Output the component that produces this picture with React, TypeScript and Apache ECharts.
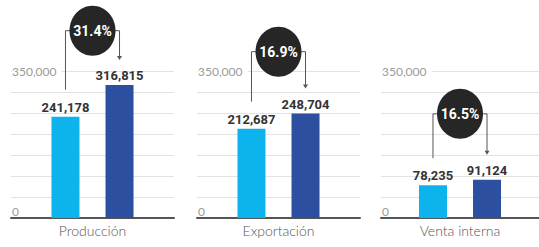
import React, { useEffect, useRef } from 'react';
import * as echarts from 'echarts';

const categories = ['Producción', 'Exportación', 'Venta interna'];
const previousValues = [241178, 212687, 78235];
const currentValues = [316815, 248704, 91124];
const growthLabels = ['31.4%', '16.9%', '16.5%'];
// value level (in axis units) where each growth bracket/bubble sits
const bracketLevels = [446000, 396000, 248000];
const shownTicks = [0, 350000];

const LIGHT = '#0cb3ec';
const DARK = '#2d4f9f';
const gridLefts = [11, 197, 381];
const GRID_W = 163;

function fmt(v: number) {
  return v.toLocaleString('en-US');
}

export default function App() {
  const ref = useRef<HTMLDivElement>(null);
  useEffect(() => {
    if (!ref.current) return;
    const chart = echarts.init(ref.current, undefined, { renderer: 'svg' });
    const grids = categories.map((_, i) => ({
      left: gridLefts[i],
      width: GRID_W,
      top: 71,
      bottom: 29,
    }));
    const xAxes = categories.map((c, i) => ({
      type: 'category',
      gridIndex: i,
      data: [c],
      axisLine: { show: true, lineStyle: { color: '#555', width: 2 } },
      axisTick: { show: false },
      axisLabel: { color: '#555', fontSize: 14, fontWeight: 300, margin: 5, fontFamily: 'Lato' },
    }));
    const yAxes = categories.map((_, i) => ({
      type: 'value',
      gridIndex: i,
      min: 0,
      max: 350000,
      interval: 50000,
      axisLine: { show: false },
      axisTick: { show: false },
      splitLine: { show: true, lineStyle: { color: '#e2e2e2', width: 1 } },
      axisLabel: {
        inside: true,
        margin: 1,
        formatter: (v: number) =>
          !shownTicks.includes(v) ? '' : v === 0 ? '{z|0}' : '{t|' + fmt(v) + '}',
        rich: {
          t: {
            color: '#9a9a9a',
            fontSize: 12,
            fontFamily: 'Lato',
            backgroundColor: '#fff',
            padding: [0, 5, 0, 0],
          },
          z: {
            color: '#9a9a9a',
            fontSize: 12,
            fontFamily: 'Lato',
            padding: [0, 0, 14, 0],
          },
        },
      },
    }));
    const labelStyle = {
      show: true,
      position: 'top',
      distance: 3,
      color: '#333',
      fontSize: 13,
      fontWeight: 'bold',
      fontFamily: 'Roboto',
      formatter: (p: any) => fmt(p.value),
    };
    const series: any[] = [];
    categories.forEach((_, i) => {
      series.push({
        type: 'bar',
        xAxisIndex: i,
        yAxisIndex: i,
        data: [previousValues[i]],
        barWidth: 28,
        barGap: '93%',
        itemStyle: { color: LIGHT },
        label: labelStyle,
      });
      series.push({
        type: 'bar',
        xAxisIndex: i,
        yAxisIndex: i,
        data: [currentValues[i]],
        barWidth: 28,
        barGap: '93%',
        itemStyle: { color: DARK },
        label: labelStyle,
      });
    });
    chart.setOption({
      animation: false,
      grid: grids,
      xAxis: xAxes,
      yAxis: yAxes,
      series,
    });

    const model: any = (chart as any).getModel();
    const graphics: any[] = [];
    categories.forEach((_, i) => {
      const lp = model.getSeriesByIndex(2 * i).getData().getItemLayout(0);
      const cp = model.getSeriesByIndex(2 * i + 1).getData().getItemLayout(0);
      const xL = lp.x + lp.width / 2;
      const xR = cp.x + cp.width / 2;
      const topL = Math.min(lp.y, lp.y + lp.height);
      const topR = Math.min(cp.y, cp.y + cp.height);
      const yB = chart.convertToPixel({ yAxisIndex: i } as any, bracketLevels[i]) as number;
      const cx = (xL + xR) / 2;
      const tip = topR - 25;
      graphics.push({
        type: 'polyline',
        shape: { points: [[xL, topL - 27], [xL, yB], [cx, yB]] },
        style: { stroke: '#555', lineWidth: 1, fill: null },
        z: 10,
      });
      graphics.push({
        type: 'polyline',
        shape: { points: [[cx, yB], [xR, yB], [xR, tip - 3]] },
        style: { stroke: '#555', lineWidth: 1, fill: null },
        z: 10,
      });
      graphics.push({
        type: 'polygon',
        shape: { points: [[xR - 2.5, tip - 4], [xR + 2.5, tip - 4], [xR, tip]] },
        style: { fill: '#555' },
        z: 10,
      });
      graphics.push({
        type: 'ellipse',
        shape: { cx, cy: yB, rx: 23, ry: 25 },
        style: { fill: '#262626' },
        z: 11,
      });
      graphics.push({
        type: 'text',
        x: cx,
        y: yB,
        style: {
          text: growthLabels[i],
          fill: '#fff',
          fontSize: 14,
          fontWeight: 'bold',
          fontFamily: 'Roboto',
          align: 'center',
          verticalAlign: 'middle',
        },
        z: 12,
      });
    });
    chart.setOption({ graphic: graphics });
    return () => chart.dispose();
  }, []);
  return (
    <div
      ref={ref}
      style={{ position: 'absolute', left: 0, top: 0, width: 539, height: 247, background: '#fff' }}
    />
  );
}
